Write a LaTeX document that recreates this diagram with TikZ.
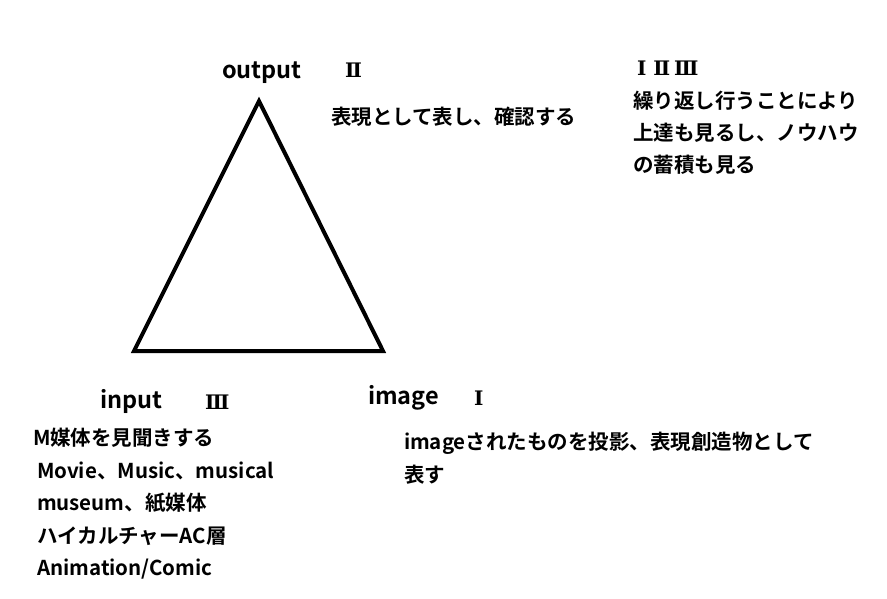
\documentclass[tikz,border=0pt]{standalone}
\usepackage{fontspec}
\setmainfont{Noto Sans CJK JP}[UprightFont=* Bold]
\newfontfamily\numfont{DejaVu Serif}[UprightFont=* Bold]
\begin{document}
\begin{tikzpicture}[x=1pt,y=-1pt,inner sep=0pt,outer sep=0pt,
corner/.style={anchor=base west,font=\fontsize{23.5}{23.5}\selectfont},
num/.style={anchor=base west,font=\numfont\fontsize{20}{20}\selectfont},
note/.style={anchor=base west,font=\fontsize{20.5}{20.5}\selectfont}]
\useasboundingbox (0,0) rectangle (887,598);
\draw[line width=4pt,line join=miter] (259,101) coordinate (top) -- (383,351) coordinate (right) -- (134,351) coordinate (left) -- cycle;
% output
\node[corner] (out) at (222,78) {output};
\node[num] (outnum) at (345,77) {Ⅱ};
\node[note] (outtext) at (331,124) {表現として表し、確認する};
% all three
\node[num] (allnum) at (637,75) {Ⅰ\kern7ptⅡ\kern4ptⅢ};
\node[note] (all1) at (633,108) {繰り返し行うことにより};
\node[note] (all2) at (633,140) {上達も見るし、ノウハウ};
\node[note] (all3) at (633,172) {の蓄積も見る};
% input
\node[corner] (in) at (100,408) {input};
\node[num] (innum) at (205,409) {Ⅲ};
\node[note] (in1) at (33,445) {M媒体を見聞きする};
\node[note] (in2) at (37,478) {Movie、Music、musical};
\node[note] (in3) at (37,510) {museum、紙媒体};
\node[note] (in4) at (37,543) {ハイカルチャーAC層};
\node[note] (in5) at (37,575) {Animation/Comic};
% image
\node[corner] (img) at (368,404) {image};
\node[num] (imgnum) at (474,405) {Ⅰ};
\node[note] (img1) at (404,449) {imageされたものを投影、表現創造物として};
\node[note] (img2) at (404,482) {表す};
\end{tikzpicture}
\end{document}
